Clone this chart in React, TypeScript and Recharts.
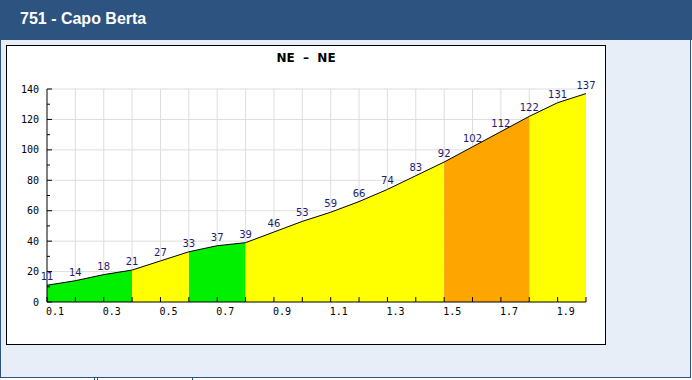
import React from "react";
import {
  ComposedChart,
  Area,
  Line,
  XAxis,
  YAxis,
  CartesianGrid,
  LabelList,
} from "recharts";

// distance along the climb (km) and altitude gain labels read from the profile
const km = [
  0.1, 0.2, 0.3, 0.4, 0.5, 0.6, 0.7, 0.8, 0.9, 1.0,
  1.1, 1.2, 1.3, 1.4, 1.5, 1.6, 1.7, 1.8, 1.9, 2.0,
];
const altitude = [
  11, 14, 18, 21, 27, 33, 37, 39, 46, 53,
  59, 66, 74, 83, 92, 102, 112, 122, 131, 137,
];
// colour class of each stretch between two points (19 stretches)
const stretchClass = [
  "green", "green", "green", "yellow", "yellow", "green", "green",
  "yellow", "yellow", "yellow", "yellow", "yellow", "yellow", "yellow",
  "orange", "orange", "orange", "yellow", "yellow",
];
const classColors: Record<string, string> = {
  green: "#00f000",
  yellow: "#ffff00",
  orange: "#ffa500",
};
const yTicks = [0, 10, 20, 30, 40, 50, 60, 70, 80, 90, 100, 110, 120, 130, 140];
const yGrid = [20, 40, 60, 80, 100, 120, 140];

const HEADER_BLUE = "#2d5381";
const PANEL_BLUE = "#e7eef8";
const LABEL_NAVY = "#1c1c6e";

// one key per colour; a point belongs to the stretches on both sides of it
const chartData = km.map((k, i) => {
  const row: Record<string, number | null> = { km: k, alt: altitude[i] };
  for (const c of Object.keys(classColors)) {
    const before = i > 0 && stretchClass[i - 1] === c;
    const after = i < stretchClass.length && stretchClass[i] === c;
    row[c] = before || after ? altitude[i] : null;
  }
  return row;
});

function YTick({ x, y, payload }: any) {
  const major = payload.value % 20 === 0;
  return (
    <g>
      <line x1={x} x2={x + (major ? 5 : 3)} y1={y} y2={y} stroke="#000" />
      {major && (
        <text
          x={x - 8}
          y={y}
          dy="0.35em"
          textAnchor="end"
          fontFamily="DejaVu Sans Mono"
          fontSize={10}
          fill="#000"
        >
          {payload.value}
        </text>
      )}
    </g>
  );
}

function XTick({ x, y, payload, index }: any) {
  return (
    <g>
      <line x1={x} x2={x} y1={y} y2={y - 5} stroke="#000" />
      {index % 2 === 0 && index < km.length - 1 && (
        <text
          x={x - 1}
          y={y + 13}
          textAnchor="start"
          fontFamily="DejaVu Sans Mono"
          fontSize={10}
          fill="#000"
        >
          {Number(payload.value).toFixed(1)}
        </text>
      )}
    </g>
  );
}

export default function App() {
  return (
    <div
      style={{
        position: "absolute",
        left: 0,
        top: 0,
        width: 692,
        height: 380,
        background: "#fff",
        overflow: "hidden",
      }}
    >
      {/* header bar */}
      <div
        style={{
          position: "absolute",
          left: 0,
          top: 0,
          width: 692,
          height: 40,
          background: HEADER_BLUE,
        }}
      >
        <div
          style={{
            position: "absolute",
            left: 20,
            top: 10,
            color: "#fff",
            fontFamily: "Liberation Sans",
            fontWeight: 700,
            fontSize: 16,
            lineHeight: "18px",
          }}
        >
          751 - Capo Berta
        </div>
      </div>

      {/* light blue panel */}
      <div
        style={{
          position: "absolute",
          left: 0,
          top: 40,
          width: 689,
          height: 337,
          background: PANEL_BLUE,
          borderLeft: `1px solid ${HEADER_BLUE}`,
          borderRight: `1px solid ${HEADER_BLUE}`,
          borderBottom: `1px solid ${HEADER_BLUE}`,
        }}
      />
      <div style={{ position: "absolute", left: 94, top: 378, width: 1, height: 2, background: HEADER_BLUE }} />
      <div style={{ position: "absolute", left: 97, top: 378, width: 1, height: 2, background: HEADER_BLUE }} />
      <div style={{ position: "absolute", left: 192, top: 378, width: 1, height: 2, background: HEADER_BLUE }} />

      {/* chart box */}
      <div
        style={{
          position: "absolute",
          left: 6,
          top: 45,
          width: 598,
          height: 298,
          background: "#fff",
          border: "1px solid #000",
        }}
      >
        <div
          style={{
            position: "absolute",
            left: 0,
            top: 5,
            width: 598,
            textAlign: "center",
            fontFamily: "DejaVu Sans",
            fontWeight: 700,
            fontSize: 12,
            lineHeight: "14px",
            color: "#000",
            whiteSpace: "pre",
          }}
        >
          {"NE  \u2013  NE"}
        </div>
        <ComposedChart
          width={598}
          height={298}
          data={chartData}
          margin={{ top: 43, right: 19, bottom: 12, left: 0 }}
        >
          <CartesianGrid
            stroke="#dddddd"
            horizontalValues={yGrid}
            verticalValues={km.slice(1, km.length - 1)}
          />
          <XAxis
            dataKey="km"
            type="number"
            domain={[0.1, 2.0]}
            ticks={km}
            interval={0}
            height={30}
            tickSize={0}
            tickMargin={0}
            tickLine={false}
            axisLine={{ stroke: "#000" }}
            tick={<XTick />}
          />
          <YAxis
            type="number"
            domain={[0, 140]}
            ticks={yTicks}
            interval={0}
            width={40}
            tickSize={0}
            tickMargin={0}
            tickLine={false}
            axisLine={{ stroke: "#000" }}
            tick={<YTick />}
          />
          {Object.keys(classColors).map((c) => (
            <Area
              key={c}
              dataKey={c}
              type="linear"
              stroke="none"
              fill={classColors[c]}
              fillOpacity={1}
              connectNulls={false}
              dot={false}
              activeDot={false}
              isAnimationActive={false}
            />
          ))}
          <Line
            dataKey="alt"
            type="linear"
            stroke="#000"
            strokeWidth={1}
            dot={false}
            activeDot={false}
            isAnimationActive={false}
          >
            <LabelList
              dataKey="alt"
              position="top"
              offset={5}
              fill={LABEL_NAVY}
              fontSize={10}
              fontFamily="DejaVu Sans"
            />
          </Line>
        </ComposedChart>
      </div>
    </div>
  );
}
